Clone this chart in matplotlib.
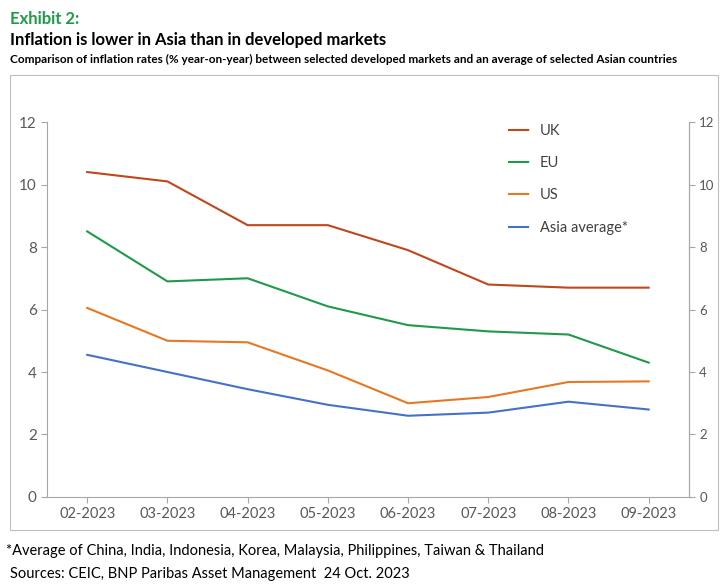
import matplotlib.pyplot as plt
from matplotlib.patches import Rectangle

months = ['02-2023', '03-2023', '04-2023', '05-2023', '06-2023', '07-2023', '08-2023', '09-2023']
uk = [10.4, 10.1, 8.7, 8.7, 7.9, 6.8, 6.7, 6.7]
eu = [8.5, 6.9, 7.0, 6.1, 5.5, 5.3, 5.2, 4.3]
us = [6.05, 5.0, 4.95, 4.05, 3.0, 3.2, 3.68, 3.7]
asia = [4.55, 4.0, 3.45, 2.95, 2.6, 2.7, 3.05, 2.8]

plt.rcParams['font.family'] = ['Lato', 'DejaVu Sans']
fig = plt.figure(figsize=(7.25, 5.84), dpi=100)

# titres
fig.text(0.014, 0.982, 'Exhibit 2:', color='#1E9A48', fontsize=12, fontweight='bold', va='top')
fig.text(0.014, 0.946, 'Inflation is lower in Asia than in developed markets', fontsize=12, fontweight='bold', va='top')
fig.text(0.014, 0.908, 'Comparison of inflation rates (% year-on-year) between selected developed markets and an average of selected Asian countries',
         fontsize=8.5, fontweight='bold', va='top')

# cadre du graphique
fig.patches.append(Rectangle((0.014, 0.092), 0.976, 0.78, transform=fig.transFigure,
                             fill=False, edgecolor='#BFBFBF', lw=0.8))

ax = fig.add_axes([0.065, 0.149, 0.885, 0.642])
x = range(len(months))
ax.plot(x, uk, color='#C0461B', lw=1.5, label='UK')
ax.plot(x, eu, color='#1E9A48', lw=1.5, label='EU')
ax.plot(x, us, color='#E87722', lw=1.5, label='US')
ax.plot(x, asia, color='#4472C4', lw=1.5, label='Asia average*')

ax.set_ylim(0, 12)
ax.set_xlim(-0.5, 7.5)
ax.set_xticks(list(x))
ax.set_xticklabels(months)
ax.set_yticks(range(0, 13, 2))
ax.spines['top'].set_visible(False)
for s in ['left', 'bottom', 'right']:
    ax.spines[s].set_color('#A6A6A6')
ax.tick_params(colors='#595959', labelsize=10.5)
ax.tick_params(axis='y', length=4, color='#A6A6A6', labelsize=11)
ax.tick_params(axis='x', length=4, color='#A6A6A6')

ax2 = ax.twinx()
ax2.set_ylim(0, 12)
ax2.set_yticks(range(0, 13, 2))
ax2.spines['top'].set_visible(False)
ax2.spines['left'].set_visible(False)
ax2.spines['bottom'].set_visible(False)
ax2.spines['right'].set_color('#A6A6A6')
ax2.tick_params(colors='#595959', labelsize=9.5, length=4, color='#A6A6A6')

ax.legend(loc='upper left', bbox_to_anchor=(0.7, 1.03), frameon=False, fontsize=10.5,
          handlelength=1.3, labelspacing=1.25, labelcolor='#404040')

fig.text(0.008, 0.057, '*Average of China, India, Indonesia, Korea, Malaysia, Philippines, Taiwan & Thailand', fontsize=10.5, va='center')
fig.text(0.014, 0.017, 'Sources: CEIC, BNP Paribas Asset Management  24 Oct. 2023', fontsize=10.5, va='center')

plt.savefig('out.png', dpi=100)
